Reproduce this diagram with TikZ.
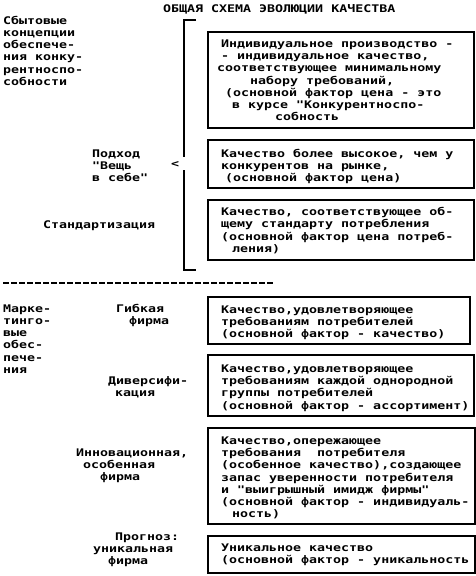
\documentclass[tikz,border=0pt]{standalone}
\usepackage{fontspec}
\newfontfamily\dosfont[FakeStretch=1.266]{DejaVu Sans Mono}
\newcommand\ind[1]{\hspace*{#1pt}}

\begin{document}
\begin{tikzpicture}[
  x=1pt,y=-1pt,
  txt/.style={font=\dosfont\bfseries\fontsize{10.5}{12.3}\selectfont,
    align=left,anchor=north west,inner sep=0pt},
  qbox/.style={draw,line width=2pt,anchor=north west,inner sep=0pt,
    minimum width=266pt},
  brk/.style={line width=2pt},
  sep/.style={line width=1.3pt,dash pattern=on 6pt off 2pt}
]
  \useasboundingbox (0,0) rectangle (476,576);

  \node[txt] (title) at (163,3.2) {\strut ОБЩАЯ СХЕМА ЭВОЛЮЦИИ КАЧЕСТВА};

  % left column
  \node[txt] (conc) at (3,15.2) {\strut Сбытовые\\концепции\\обеспече-\\ния конку-\\рентноспо-\\собности};
  \node[txt] (vesch) at (92,148.2) {\strut Подход\\"Вещь\\в себе"};
  \node[txt] (arr) at (171,158.2) {\strut <};
  \node[txt] (stand) at (43,219.2) {\strut Стандартизация};
  \node[txt] (mark) at (3,303.2) {\strut Марке-\\тинго-\\вые\\обес-\\пече-\\ния};
  \node[txt] (gib) at (116,303.2) {\strut Гибкая\\\ind{13}фирма};
  \node[txt] (div) at (108,375.2) {\strut Диверсифи-\\\ind{7}кация};
  \node[txt] (inn) at (76,447.2) {\strut Инновационная,\\\ind{7}особенная\\\ind{24}фирма};
  \node[txt] (prog) at (93,531.2) {\strut\ind{22}Прогноз:\\уникальная\\\ind{15}фирма};

  % bracket
  \coordinate (btop) at (184,20);
  \coordinate (bbot) at (184,270);
  \draw[brk] (196,20) -- (btop) -- (184,157);
  \draw[brk] (184,170) -- (bbot) -- (196,270);

  \draw[sep] (3,283) -- (274,283);

  % boxes
  \node[qbox,minimum height=96pt] (q1) at (207,31) {};
  \node[qbox,minimum height=48pt] (q2) at (207,139) {};
  \node[qbox,minimum height=60pt] (q3) at (207,199) {};
  \node[qbox,minimum height=47pt,minimum width=262pt] (q4) at (207,296) {};
  \node[qbox,minimum height=61pt] (q5) at (207,354) {};
  \node[qbox,minimum height=96pt,minimum width=267pt] (q6) at (207,427) {};
  \node[qbox,minimum height=37pt,minimum width=267pt] (q7) at (207,535) {};

  \node[txt] (t1) at ([shift={(14,7.3)}]q1.north west) {\strut Индивидуальное производство -\\- индивидуальное качество,\\\ind{-4}соответствующее минимальному\\\ind{29}набору требований,\\\ind{4}(основной фактор цена - это\\\ind{11}в курсе "Конкурентноспо-\\\ind{54}собность};
  \node[txt] (t2) at ([shift={(14,9.3)}]q2.north west) {\strut Качество более высокое, чем у\\конкурентов на рынке,\\\ind{4}(основной фактор цена)};
  \node[txt] (t3) at ([shift={(14,7.6)}]q3.north west) {\strut Качество, соответствующее об-\\щему стандарту потребления\\(основной фактор цена потреб-\\\ind{11}ления)};
  \node[txt] (t4) at ([shift={(14,8.3)}]q4.north west) {\strut Качество,удовлетворяющее\\требованиям потребителей\\(основной фактор - качество)};
  \node[txt] (t5) at ([shift={(14,9.3)}]q5.north west) {\strut Качество,удовлетворяющее\\требованиям каждой однородной\\группы потребителей\\(основной фактор - ассортимент)};
  \node[txt] (t6) at ([shift={(14,8.3)}]q6.north west) {\strut Качество,опережающее\\требования~ потребителя\\(особенное качество),создающее\\запас уверенности потребителя\\и "выигрышный имидж фирмы"\\(основной фактор - индивидуаль-\\\ind{11}ность)};
  \node[txt] (t7) at ([shift={(14,7.3)}]q7.north west) {\strut Уникальное качество\\(основной фактор - уникальность};
\end{tikzpicture}
\end{document}
